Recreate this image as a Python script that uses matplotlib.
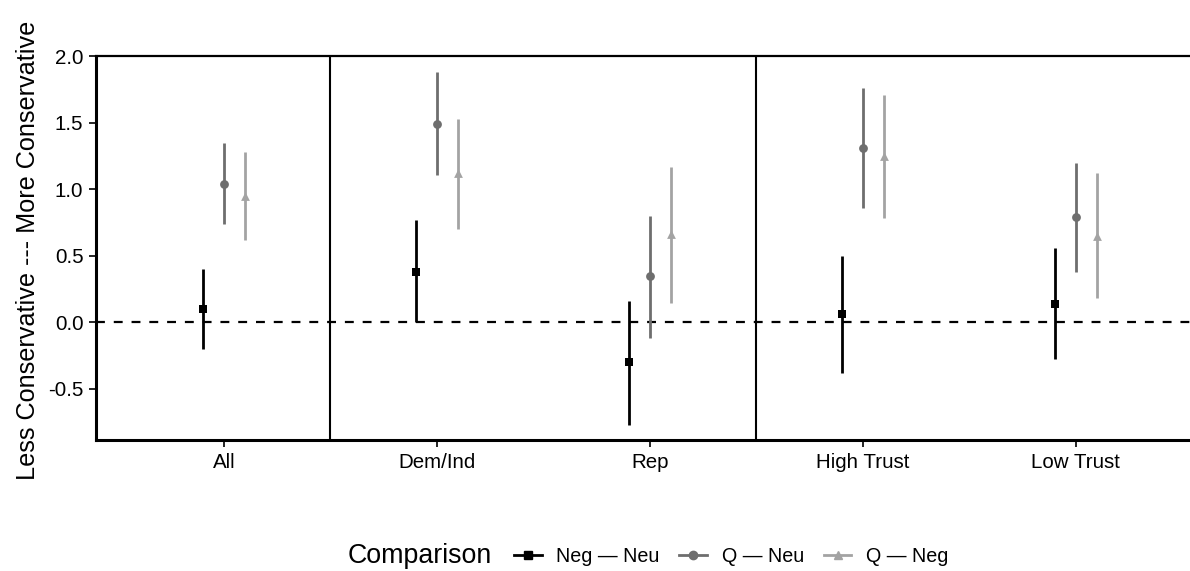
import matplotlib
matplotlib.use("Agg")
import matplotlib.pyplot as plt
from matplotlib.lines import Line2D
from matplotlib.offsetbox import HPacker

plt.rcParams['font.family'] = ['Liberation Sans', 'DejaVu Sans']

categories = ["All", "Dem/Ind", "Rep", "High Trust", "Low Trust"]
series = ["Neg \u2014 Neu", "Q \u2014 Neu", "Q \u2014 Neg"]

est_neg_neu = [0.10, 0.38, -0.30, 0.06, 0.14]
lo_neg_neu = [-0.20, 0.00, -0.77, -0.38, -0.28]
hi_neg_neu = [0.40, 0.77, 0.16, 0.50, 0.56]

est_q_neu = [1.04, 1.49, 0.345, 1.31, 0.79]
lo_q_neu = [0.74, 1.105, -0.12, 0.857, 0.376]
hi_q_neu = [1.345, 1.88, 0.80, 1.76, 1.195]

est_q_neg = [0.95, 1.12, 0.66, 1.25, 0.65]
lo_q_neg = [0.62, 0.70, 0.143, 0.78, 0.18]
hi_q_neg = [1.28, 1.53, 1.165, 1.71, 1.12]

colors = ["black", "#6e6e6e", "#a3a3a3"]
markers = ["s", "o", "^"]
offsets = [-0.1, 0.0, 0.1]

fig = plt.figure(figsize=(11.9, 5.71), dpi=100)
ax = fig.add_axes([96/1190, 1 - 440/571, 1 - 96/1190, (440 - 56)/571])

data = [(est_neg_neu, lo_neg_neu, hi_neg_neu),
        (est_q_neu, lo_q_neu, hi_q_neu),
        (est_q_neg, lo_q_neg, hi_q_neg)]

ax.axhline(0, color="black", lw=1.6, ls=(0, (4, 4)), zorder=1)
for xv in [1.5, 3.5]:
    ax.axvline(xv, color="black", lw=1.5, zorder=1)

for i, (est, lo, hi) in enumerate(data):
    xs = [k + 1 + offsets[i] for k in range(len(categories))]
    ax.vlines(xs, lo, hi, color=colors[i], lw=2.0, zorder=3)
    ax.scatter(xs, est, marker=markers[i], color=colors[i], s=40, zorder=4, linewidths=0)

ax.set_xlim(0.4, 5.536)
ax.set_ylim(-0.885, 2.0)
ax.axhline(2.0, color="black", lw=1.6, clip_on=False, zorder=1)

ax.set_xticks(range(1, len(categories) + 1))
ax.set_xticklabels(categories)
ax.set_yticks([-0.5, 0.0, 0.5, 1.0, 1.5, 2.0])
ax.set_yticklabels(["-0.5", "0.0", "0.5", "1.0", "1.5", "2.0"])
ax.tick_params(axis='both', labelsize=14.8, length=5, width=1.2, colors="black", pad=4)

for s in ["top", "right"]:
    ax.spines[s].set_visible(False)
for s in ["left", "bottom"]:
    ax.spines[s].set_linewidth(2.2)
    ax.spines[s].set_color("black")

fig.text(28/1190, 1 - 250/571, "Less Conservative --- More Conservative",
         rotation=90, ha="center", va="center", fontsize=18.2)

handles = [Line2D([0], [0], color=colors[i], marker=markers[i], lw=2, markersize=6)
           for i in range(3)]
leg = fig.legend(handles, series, loc="center", bbox_to_anchor=(648/1190, 1 - 556/571),
                 ncol=3, frameon=False, fontsize=14.2, title="Comparison",
                 title_fontsize=19.3, handlelength=1.4, handletextpad=0.75,
                 columnspacing=1.0)
title_box = leg._legend_title_box
handle_box = leg._legend_handle_box
leg._legend_box._children = [HPacker(children=[title_box, handle_box], pad=0, sep=16, align="center")]

fig.savefig("out.png", dpi=100)
